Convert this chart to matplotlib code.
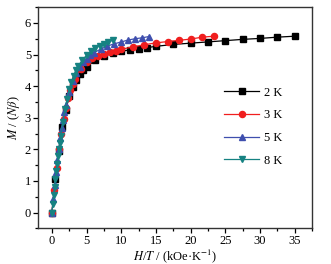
import matplotlib
matplotlib.use("Agg")
import matplotlib.pyplot as plt
from matplotlib.ticker import MultipleLocator

plt.rcParams['font.family'] = ['Liberation Serif', 'DejaVu Serif']
plt.rcParams['mathtext.fontset'] = 'stix'

# H/T values (kOe/K) and M (N beta) per temperature
x_2K = [0, 0.5, 1.0, 1.5, 2.0, 2.5, 3.0, 3.5, 4.0, 4.5, 5.0, 6.25, 7.5, 8.75, 10, 11.25,
        12.5, 13.75, 15, 17.5, 20, 22.5, 25, 27.5, 30, 32.5, 35]
m_2K = [0, 1.05, 1.95, 2.7, 3.25, 3.68, 3.98, 4.2, 4.37, 4.5, 4.6, 4.83, 4.96, 5.04, 5.1,
        5.15, 5.19, 5.22, 5.26, 5.32, 5.36, 5.4, 5.44, 5.48, 5.51, 5.55, 5.58]

x_3K = [0, 0.333, 0.667, 1.0, 1.333, 1.667, 2.0, 2.333, 2.667, 3.0, 3.333, 4.167, 5.0,
        5.833, 6.667, 7.5, 8.333, 9.167, 10, 11.667, 13.333, 15, 16.667, 18.333, 20,
        21.667, 23.333]
m_3K = [0, 0.72, 1.4, 2.0, 2.5, 2.95, 3.32, 3.62, 3.87, 4.06, 4.23, 4.55, 4.76, 4.88,
        4.96, 5.02, 5.07, 5.12, 5.17, 5.24, 5.31, 5.37, 5.41, 5.45, 5.49, 5.55, 5.58]

x_5K = [0, 0.2, 0.4, 0.6, 0.8, 1.0, 1.2, 1.4, 1.6, 1.8, 2.0, 2.5, 3.0, 3.5, 4.0, 4.5, 5.0,
        5.5, 6.0, 7.0, 8.0, 9.0, 10, 11, 12, 13, 14]
m_5K = [0, 0.43, 0.86, 1.27, 1.66, 2.02, 2.35, 2.66, 2.93, 3.17, 3.39, 3.83, 4.15, 4.4,
        4.6, 4.75, 4.87, 4.97, 5.05, 5.17, 5.27, 5.34, 5.40, 5.46, 5.50, 5.53, 5.57]

x_8K = [0, 0.125, 0.25, 0.375, 0.5, 0.625, 0.75, 0.875, 1.0, 1.125, 1.25, 1.5625, 1.875,
        2.1875, 2.5, 2.8125, 3.125, 3.4375, 3.75, 4.375, 5.0, 5.625, 6.25, 6.875, 7.5,
        8.125, 8.75]
m_8K = [0, 0.27, 0.54, 0.8, 1.06, 1.31, 1.55, 1.78, 2.0, 2.21, 2.41, 2.87, 3.27, 3.6,
        3.9, 4.13, 4.33, 4.5, 4.63, 4.82, 4.98, 5.1, 5.2, 5.28, 5.34, 5.4, 5.45]

labels = ['2 K', '3 K', '5 K', '8 K']

fig = plt.figure(figsize=(3.31, 2.64), dpi=100)
ax = fig.add_axes([0.115, 0.135, 0.828, 0.838])

series = [
    (x_2K, m_2K, 'black', 's', 4.0),
    (x_3K, m_3K, '#f01e1e', 'o', 4.4),
    (x_5K, m_5K, '#3f4fae', '^', 5.0),
    (x_8K, m_8K, '#168282', 'v', 5.0),
]
for (xs, ms, c, mk, sz), lab in zip(series, labels):
    ax.plot(xs, ms, color=c, marker=mk, markersize=sz, linewidth=0.9, label=lab)

ax.set_xlim(-2, 37.5)
ax.set_ylim(-0.5, 6.5)
ax.xaxis.set_major_locator(MultipleLocator(5))
ax.xaxis.set_minor_locator(MultipleLocator(2.5))
ax.yaxis.set_major_locator(MultipleLocator(1))
ax.yaxis.set_minor_locator(MultipleLocator(0.5))
ax.tick_params(which='both', direction='out', width=0.9, labelsize=9, pad=1.5)
ax.tick_params(which='major', length=3.5)
ax.tick_params(which='minor', length=2)
for s in ax.spines.values():
    s.set_linewidth(1.0)
    s.set_color('#333333')

ax.set_xlabel('$H$/$T$ / (kOe·K$^{-1}$)', fontsize=9, labelpad=0)
ax.set_ylabel('$M$ / ($N\\beta$)', fontsize=9, labelpad=2)

ax.legend(loc='center right', bbox_to_anchor=(0.925, 0.46), frameon=False, fontsize=9,
          handlelength=2.8, labelspacing=0.85, handletextpad=0.4, borderpad=0.2)

fig.savefig('out.png', dpi=100)
